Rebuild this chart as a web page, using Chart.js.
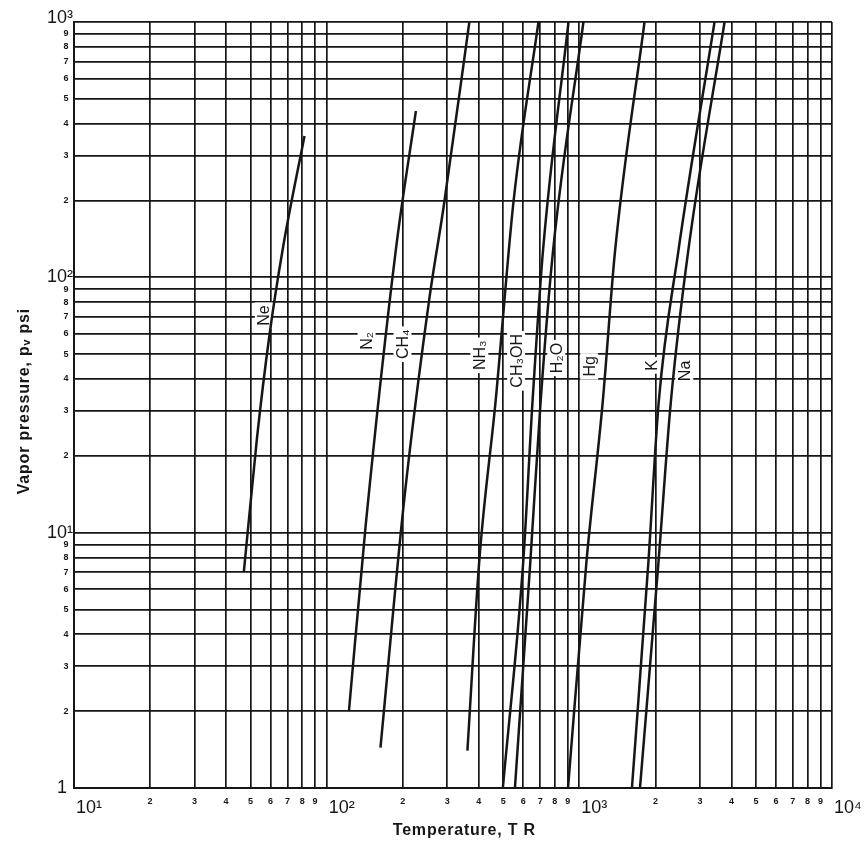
<!DOCTYPE html>
<html>
<head>
<meta charset="utf-8">
<title>Vapor pressure</title>
<script src="https://cdn.jsdelivr.net/npm/chart.js@4.4.1/dist/chart.umd.min.js"></script>
<style>
    html, body { margin: 0; padding: 0; background: #ffffff; }
    #wrap { width: 865px; height: 851px; }
</style>
</head>
<body>
<div id="wrap">
    <canvas id="graficaVapor" width="865" height="851"></canvas>
</div>
<script>

/* ===================================== */
/* DATA (temperature R, pressure psi)    */
/* ===================================== */

const neT = [47.0, 53.0, 59.4, 67.1, 81.7];
const neP = [7.0, 23.5, 59.6, 130, 358];

const n2T = [122.5, 142.6, 188, 225.5];
const n2P = [2.0, 10.6, 129, 448];

const ch4T = [163.3, 202.8, 254.6, 290.4, 367];
const ch4P = [1.44, 13.5, 81.8, 189, 1000];

const nh3T = [360.6, 402, 466.5, 549.6, 689];
const nh3P = [1.40, 7.8, 32.9, 200, 1000];

const ch3ohT = [498, 600, 653, 718, 906];
const ch3ohP = [1.0, 7.74, 32.8, 127, 1000];

const h2oT = [556, 640, 703, 787, 1038];
const h2oP = [1.0, 7.73, 32.8, 127, 1000];

const hgT = [902, 1067, 1238, 1384, 1811];
const hgP = [1.0, 7.7, 32.6, 126, 1000];

const kT = [1615, 1876, 2061, 2461, 3428];
const kP = [1.0, 7.64, 32.4, 125, 1000];

const naT = [1738, 2056, 2301, 2692, 3757];
const naP = [1.0, 7.62, 32.3, 125, 1000];

// curve labels
const nombres = ["Ne", "N\u2082", "CH\u2084", "NH\u2083", "CH\u2083OH", "H\u2082O", "Hg", "K", "Na"];
const etiquetaT = [56.4, 143.9, 199.5, 402, 562, 811, 1094, 1928, 2602];
const etiquetaP = [70.8, 56.4, 54.7, 49.5, 47.1, 48.3, 44.8, 45.2, 43.0];

// tick labels
const decadasX = [10, 100, 1000, 10000];
const decadasY = [1, 10, 100, 1000];
const etiquetasDecadaX = ["10\u00b9", "10\u00b2", "10\u00b3", "10\u2074"];
const etiquetasDecadaY = ["1", "10\u00b9", "10\u00b2", "10\u00b3"];
const etiquetasMenores = ["2", "3", "4", "5", "6", "7", "8", "9"];

const tituloX = "Temperature, T R";
const tituloY = "Vapor pressure, p\u1d65 psi";

/* ===================================== */

const FUENTE = '"Liberation Sans", "DejaVu Sans", Arial, sans-serif';
const NEGRO = "#161616";

function puntos(t, p) {
    return t.map((v, i) => ({ x: v, y: p[i] }));
}

function valoresTick(decadas) {
    const lista = [];
    for (let d = 0; d < decadas.length - 1; d++) {
        for (let m = 1; m <= 9; m++) {
            lista.push(decadas[d] * m);
        }
    }
    lista.push(decadas[decadas.length - 1]);
    return lista;
}

const ticksX = valoresTick(decadasX);
const ticksY = valoresTick(decadasY);

function curva(nombre, t, p) {
    return {
        label: nombre,
        data: puntos(t, p),
        borderColor: NEGRO,
        borderWidth: 2.5,
        pointRadius: 0,
        cubicInterpolationMode: "monotone",
        fill: false
    };
}

const textosGrafica = {

    id: "textosGrafica",

    beforeDraw(chart) {
        const ctx = chart.ctx;
        ctx.save();
        ctx.fillStyle = "#ffffff";
        ctx.fillRect(0, 0, chart.width, chart.height);
        ctx.restore();
    },

    beforeDatasetsDraw(chart) {

        const ctx = chart.ctx;
        const xs = chart.scales.x;
        const ys = chart.scales.y;

        ctx.save();
        ctx.font = "16px " + FUENTE;
        ctx.textAlign = "center";
        ctx.textBaseline = "middle";

        nombres.forEach((nombre, i) => {
            const px = xs.getPixelForValue(etiquetaT[i]);
            const py = ys.getPixelForValue(etiquetaP[i]);
            const w = ctx.measureText(nombre).width;

            ctx.save();
            ctx.translate(px, py);
            ctx.rotate(-Math.PI / 2);
            ctx.fillStyle = "#ffffff";
            ctx.fillRect(-w / 2 - 3, -9, w + 6, 18);
            ctx.fillStyle = NEGRO;
            ctx.fillText(nombre, 0, 1);
            ctx.restore();
        });

        ctx.restore();
    },

    afterDraw(chart) {

        const ctx = chart.ctx;
        const xs = chart.scales.x;
        const ys = chart.scales.y;
        const area = chart.chartArea;

        ctx.save();
        ctx.fillStyle = NEGRO;
        ctx.textBaseline = "middle";

        // x ticks
        ticksX.forEach(v => {
            const px = xs.getPixelForValue(v);
            const d = decadasX.indexOf(v);
            if (d >= 0) {
                ctx.font = "18px " + FUENTE;
                ctx.textAlign = "left";
                ctx.fillText(etiquetasDecadaX[d], px + 2, area.bottom + 20);
            } else {
                const m = Math.round(v / Math.pow(10, Math.floor(Math.log10(v) + 1e-9)));
                ctx.font = "bold 9px " + FUENTE;
                ctx.textAlign = "center";
                ctx.fillText(etiquetasMenores[m - 2], px, area.bottom + 14);
            }
        });

        // y ticks
        ticksY.forEach(v => {
            const py = ys.getPixelForValue(v);
            const d = decadasY.indexOf(v);
            if (d >= 0) {
                ctx.font = "18px " + FUENTE;
                ctx.textAlign = "right";
                let dy = 0;
                let dx = 1;
                if (d === decadasY.length - 1) dy = -4;
                if (d === 0) dx = 7;
                ctx.fillText(etiquetasDecadaY[d], area.left - dx, py + dy);
            } else {
                const m = Math.round(v / Math.pow(10, Math.floor(Math.log10(v) + 1e-9)));
                ctx.font = "bold 9px " + FUENTE;
                ctx.textAlign = "center";
                ctx.fillText(etiquetasMenores[m - 2], area.left - 8, py);
            }
        });

        // axis titles
        ctx.font = "bold 16px " + FUENTE;
        ctx.letterSpacing = "0.8px";
        ctx.textAlign = "center";
        ctx.fillText(tituloX, area.left + (area.right - area.left) * 0.515, area.bottom + 43);

        ctx.translate(25, area.top + (area.bottom - area.top) * 0.495);
        ctx.rotate(-Math.PI / 2);
        ctx.fillText(tituloY, 0, 0);

        ctx.restore();
    }
};

function ejeLog(min, max, valores) {
    return {
        type: "logarithmic",
        min: min,
        max: max,
        afterBuildTicks: (scale) => {
            scale.ticks = valores.map(v => ({ value: v }));
        },
        ticks: {
            display: false
        },
        grid: {
            color: NEGRO,
            lineWidth: 1.7,
            drawTicks: false
        },
        border: {
            display: true,
            color: NEGRO,
            width: 2
        }
    };
}

const ctx = document.getElementById("graficaVapor").getContext("2d");

const graficaVapor = new Chart(ctx, {

    type: "line",

    data: {
        datasets: [
            curva("Ne", neT, neP),
            curva("N2", n2T, n2P),
            curva("CH4", ch4T, ch4P),
            curva("NH3", nh3T, nh3P),
            curva("CH3OH", ch3ohT, ch3ohP),
            curva("H2O", h2oT, h2oP),
            curva("Hg", hgT, hgP),
            curva("K", kT, kP),
            curva("Na", naT, naP)
        ]
    },

    options: {

        responsive: false,
        animation: false,

        layout: {
            padding: { left: 74, right: 33, top: 22, bottom: 63 }
        },

        plugins: {
            legend: { display: false },
            tooltip: { enabled: false }
        },

        scales: {
            x: ejeLog(10, 10000, ticksX),
            y: ejeLog(1, 1000, ticksY)
        }
    },

    plugins: [textosGrafica]
});
</script>
</body>
</html>
